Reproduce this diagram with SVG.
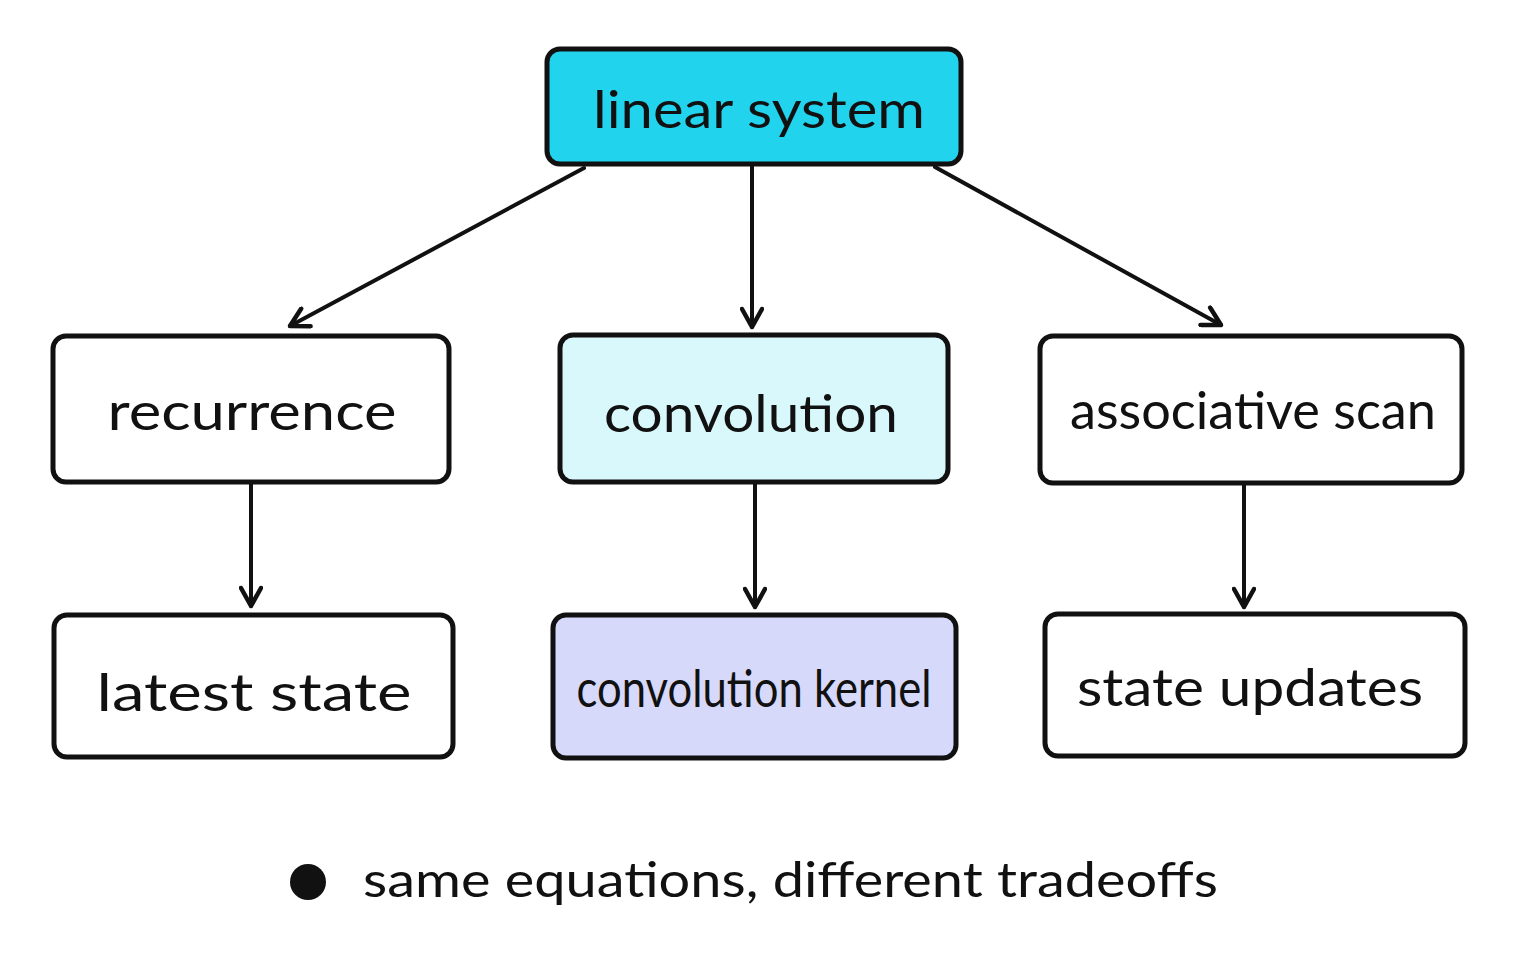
<svg xmlns="http://www.w3.org/2000/svg" width="1513" height="962" viewBox="0 0 1513 962">
  <defs>
    <marker id="arr" viewBox="0 0 24 24" refX="21" refY="12" markerWidth="24" markerHeight="24" markerUnits="userSpaceOnUse" orient="auto">
      <path d="M3,2 L21,12 L3,22" fill="none" stroke="#111" stroke-width="4.5" stroke-linecap="round" stroke-linejoin="round"/>
    </marker>
    <style>
      .box { stroke: #111; stroke-width: 5; }
      .lbl { font-family: "Lato", "Liberation Sans", sans-serif; font-size: 52px; fill: #111; text-anchor: middle; }
      .conn { fill: none; stroke: #111; stroke-width: 4; stroke-linecap: round; marker-end: url(#arr); }
    </style>
  </defs>
  <rect width="1513" height="962" fill="#ffffff"/>

  <g id="connectors">
    <path class="conn" d="M584,168 L290,326"/>
    <path class="conn" d="M752,166 L752,327"/>
    <path class="conn" d="M935,167 L1221,325"/>
    <path class="conn" d="M251,483 L251,606"/>
    <path class="conn" d="M755,484 L755,607"/>
    <path class="conn" d="M1244,484 L1244,607"/>
  </g>

  <g id="linear-system">
    <rect class="box" x="547" y="49" width="414" height="115" rx="13" fill="#22d3ee"/>
    <text class="lbl" x="759" y="128" font-size="56" textLength="332" lengthAdjust="spacingAndGlyphs">linear system</text>
  </g>
  <g id="recurrence">
    <rect class="box" x="53" y="336" width="396" height="146" rx="13" fill="#ffffff"/>
    <text class="lbl" x="252" y="430" textLength="289" lengthAdjust="spacingAndGlyphs">recurrence</text>
  </g>
  <g id="convolution">
    <rect class="box" x="560" y="335" width="388" height="147" rx="13" fill="#d9f8fc"/>
    <text class="lbl" x="751" y="432" textLength="294" lengthAdjust="spacingAndGlyphs">convolution</text>
  </g>
  <g id="associative-scan">
    <rect class="box" x="1040" y="336" width="422" height="147" rx="13" fill="#ffffff"/>
    <text class="lbl" x="1253" y="429" font-size="46" textLength="366" lengthAdjust="spacingAndGlyphs">associative scan</text>
  </g>
  <g id="latest-state">
    <rect class="box" x="54" y="615" width="399" height="142" rx="13" fill="#ffffff"/>
    <text class="lbl" x="254" y="711" font-size="56" textLength="315" lengthAdjust="spacingAndGlyphs">latest state</text>
  </g>
  <g id="convolution-kernel">
    <rect class="box" x="553" y="615" width="403" height="143" rx="13" fill="#d7d9fb"/>
    <text class="lbl" x="754" y="707" font-size="48" textLength="355" lengthAdjust="spacingAndGlyphs">convolution kernel</text>
  </g>
  <g id="state-updates">
    <rect class="box" x="1045" y="614" width="420" height="142" rx="13" fill="#ffffff"/>
    <text class="lbl" x="1250" y="706" textLength="346" lengthAdjust="spacingAndGlyphs">state updates</text>
  </g>

  <g id="legend">
    <circle cx="308" cy="882" r="18" fill="#111"/>
    <text x="363" y="897" font-family="Lato, 'Liberation Sans', sans-serif" font-size="48" fill="#111" textLength="855" lengthAdjust="spacingAndGlyphs">same equations, different tradeoffs</text>
  </g>
</svg>
